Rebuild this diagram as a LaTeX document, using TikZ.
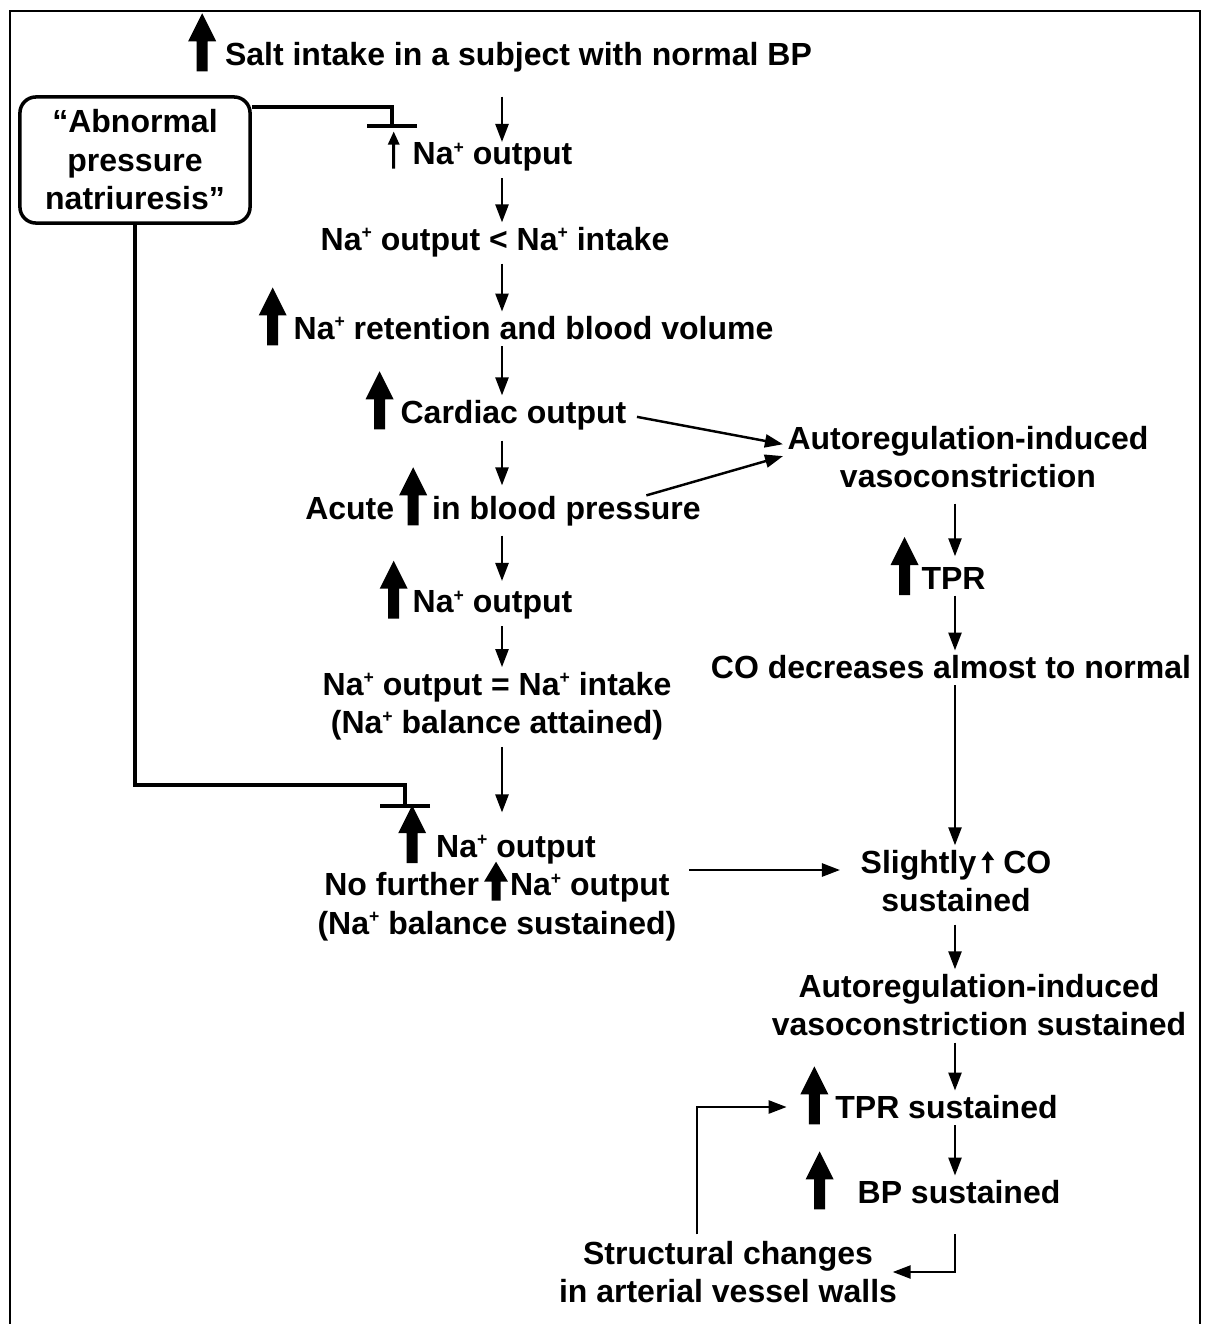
\documentclass[tikz,border=0pt]{standalone}
\usepackage{fontspec}
\setmainfont{Liberation Sans}
\usetikzlibrary{arrows.meta, positioning, calc}

% filled up-arrows set inside the labels
\newcommand{\bigup}{\smash{\tikz[baseline=0pt,x=0.01cm,y=0.01cm]\fill (-5.5,-6) -- (-5.5,24) -- (-14,24) -- (0,52) -- (14,24) -- (5.5,24) -- (5.5,-6) -- cycle;}}
\newcommand{\midup}{\smash{\tikz[baseline=0pt,x=0.01cm,y=0.01cm]\fill (-4.5,-5) -- (-4.5,14) -- (-12,14) -- (0,34) -- (12,14) -- (4.5,14) -- (4.5,-5) -- cycle;}}
\newcommand{\thinup}{\smash{\tikz[baseline=0pt,x=0.01cm,y=0.01cm]\fill (-1.5,-4) -- (-1.5,20) -- (-6,20) -- (0,33) -- (6,20) -- (1.5,20) -- (1.5,-4) -- cycle;}}
\newcommand{\smallup}{\smash{\tikz[baseline=0pt,x=0.01cm,y=0.01cm]\fill (-1.7,0) -- (-1.7,13) -- (-6.5,13) -- (0,22) -- (6.5,13) -- (1.7,13) -- (1.7,0) -- cycle;}}
\newcommand{\Nap}{Na\raisebox{0.36em}{\fontsize{5pt}{5pt}\selectfont +}}

\begin{document}
\begin{tikzpicture}[x=0.01cm, y=-0.01cm,
		every node/.style={font=\fontsize{9.1pt}{10.95pt}\selectfont\bfseries, align=center, inner sep=0pt},
		flow/.style={-{Triangle[length=0.18cm,width=0.13cm]}, line width=0.7pt, shorten <=0.06cm, shorten >=0.04cm},
		block/.style={-{Bar[width=0.5cm]}, line width=1.1pt},
		frame/.style={line width=0.8pt},
		note/.style={draw, line width=1pt, rounded corners=0.16cm, minimum width=2.3cm, minimum height=1.26cm}
	]

	\useasboundingbox (0,0) rectangle (1205,1324);
	\fill[white] (0,0) rectangle (1205,1324);
	\draw[frame] (10,1330) -- (10,11) -- (1200,11) -- (1200,1330);

	% Columns
	\coordinate (colL) at (502,0);
	\coordinate (colR) at (955,0);
	\coordinate (colS) at (697,0);
	\coordinate (hz) at (0,870);
	\coordinate (barA) at (392,128);
	\coordinate (barB) at (405,808);

	% Left chain
	\node (salt) at (500,57) {\bigup\ Salt intake in a subject with normal BP};
	\node[note] (pnat) at (135,160) {“Abnormal\\pressure\\natriuresis”};
	\node (naoA) at (480,157) {\thinup\hspace{0.13cm}\Nap\ output};
	\node (lowout) at (495,242) {\Nap\ output < \Nap\ intake};
	\node (retain) at (516,328) {\bigup\hspace{0.07cm}\Nap\ retention and blood volume};
	\node (cardiac) at (496,415) {\bigup\hspace{0.07cm}Cardiac output};
	\node (acute) at (503,511) {Acute\hspace{0.05cm}\bigup\hspace{0.05cm}in blood pressure};
	\node (naoB) at (476,605) {\bigup\hspace{0.05cm}\Nap\ output};
	\node (equal) at (497,706) {\Nap\ output = \Nap\ intake\\(\Nap\ balance attained)};
	\node (naoC) at (497,888) {\bigup\hspace{0.1cm}\Nap\ output\\No further\hspace{0.05cm}\midup\hspace{0.02cm}\Nap\ output\\(\Nap\ balance sustained)};

	% Right chain
	\node (autoA) at (968,457) {Autoregulation-induced\\vasoconstriction};
	\node (tpr) at (938,578) {\bigup\hspace{0.03cm}TPR};
	\node (codec) at (951,667) {CO decreases almost to normal};
	\node (slight) at (956,881) {Slightly\hspace{0.05cm}\smallup\hspace{0.09cm}CO\\sustained};
	\node (autoB) at (979,1005) {Autoregulation-induced\\vasoconstriction sustained};
	\node (tprsus) at (929,1107) {\bigup\hspace{0.07cm}TPR sustained};
	\node (bpsus) at (933,1192) {\bigup\hspace{0.24cm}BP sustained};
	\node (struct) at (728,1272) {Structural changes\\in arterial vessel walls};

	% Arrows
	\draw[flow, shorten <=0.24cm, shorten >=0cm] (salt.south -| colL) -- (naoA.north -| colL);
	\draw[flow] (naoA.south -| colL) -- (lowout.north -| colL);
	\draw[flow] (lowout.south -| colL) -- (retain.north -| colL);
	\draw[flow] (retain.south -| colL) -- (cardiac.north -| colL);
	\draw[flow, shorten <=0.1cm, shorten >=0.1cm] (cardiac.south -| colL) -- (acute.north -| colL);
	\draw[flow, shorten <=0.09cm, shorten >=0.09cm] (acute.south -| colL) -- (naoB.north -| colL);
	\draw[flow] (naoB.south -| colL) -- (equal.north -| colL);
	\draw[flow, shorten >=0.22cm] (equal.south -| colL) -- (naoC.north -| colL);

	\draw[flow, shorten <=0.15cm, shorten >=0.1cm] (autoA.south -| colR) -- (tpr.north -| colR);
	\draw[flow] (tpr.south -| colR) -- (codec.north -| colR);
	\draw[flow] (codec.south -| colR) -- (slight.north -| colR);
	\draw[flow, shorten <=0.12cm] (slight.south -| colR) -- (autoB.north -| colR);
	\draw[flow] (autoB.south -| colR) -- (tprsus.north -| colR);
	\draw[flow] (tprsus.south -| colR) -- (bpsus.north -| colR);

	\draw[flow, shorten <=0.1cm] (cardiac.east) -- ([yshift=0.12cm]autoA.west);
	\draw[flow, shorten <=0cm] ([xshift=-0.55cm]acute.north east) -- ([yshift=0.02cm]autoA.west);
	\draw[flow, shorten <=0.12cm, shorten >=0.2cm] (naoC.east |- hz) -- (slight.west |- hz);

	\draw[flow, shorten <=0.3cm, shorten >=-0.05cm] (bpsus.south -| colR) |- (struct.east);
	\draw[flow, shorten >=0.13cm] (struct.north -| colS) |- (tprsus.west);

	% Inhibition
	\draw[block] ([yshift=-0.12cm]pnat.north east) -| (barA);
	\draw[block] (pnat.south) |- ([yshift=0.23cm]barB) -- (barB);

\end{tikzpicture}
\end{document}
